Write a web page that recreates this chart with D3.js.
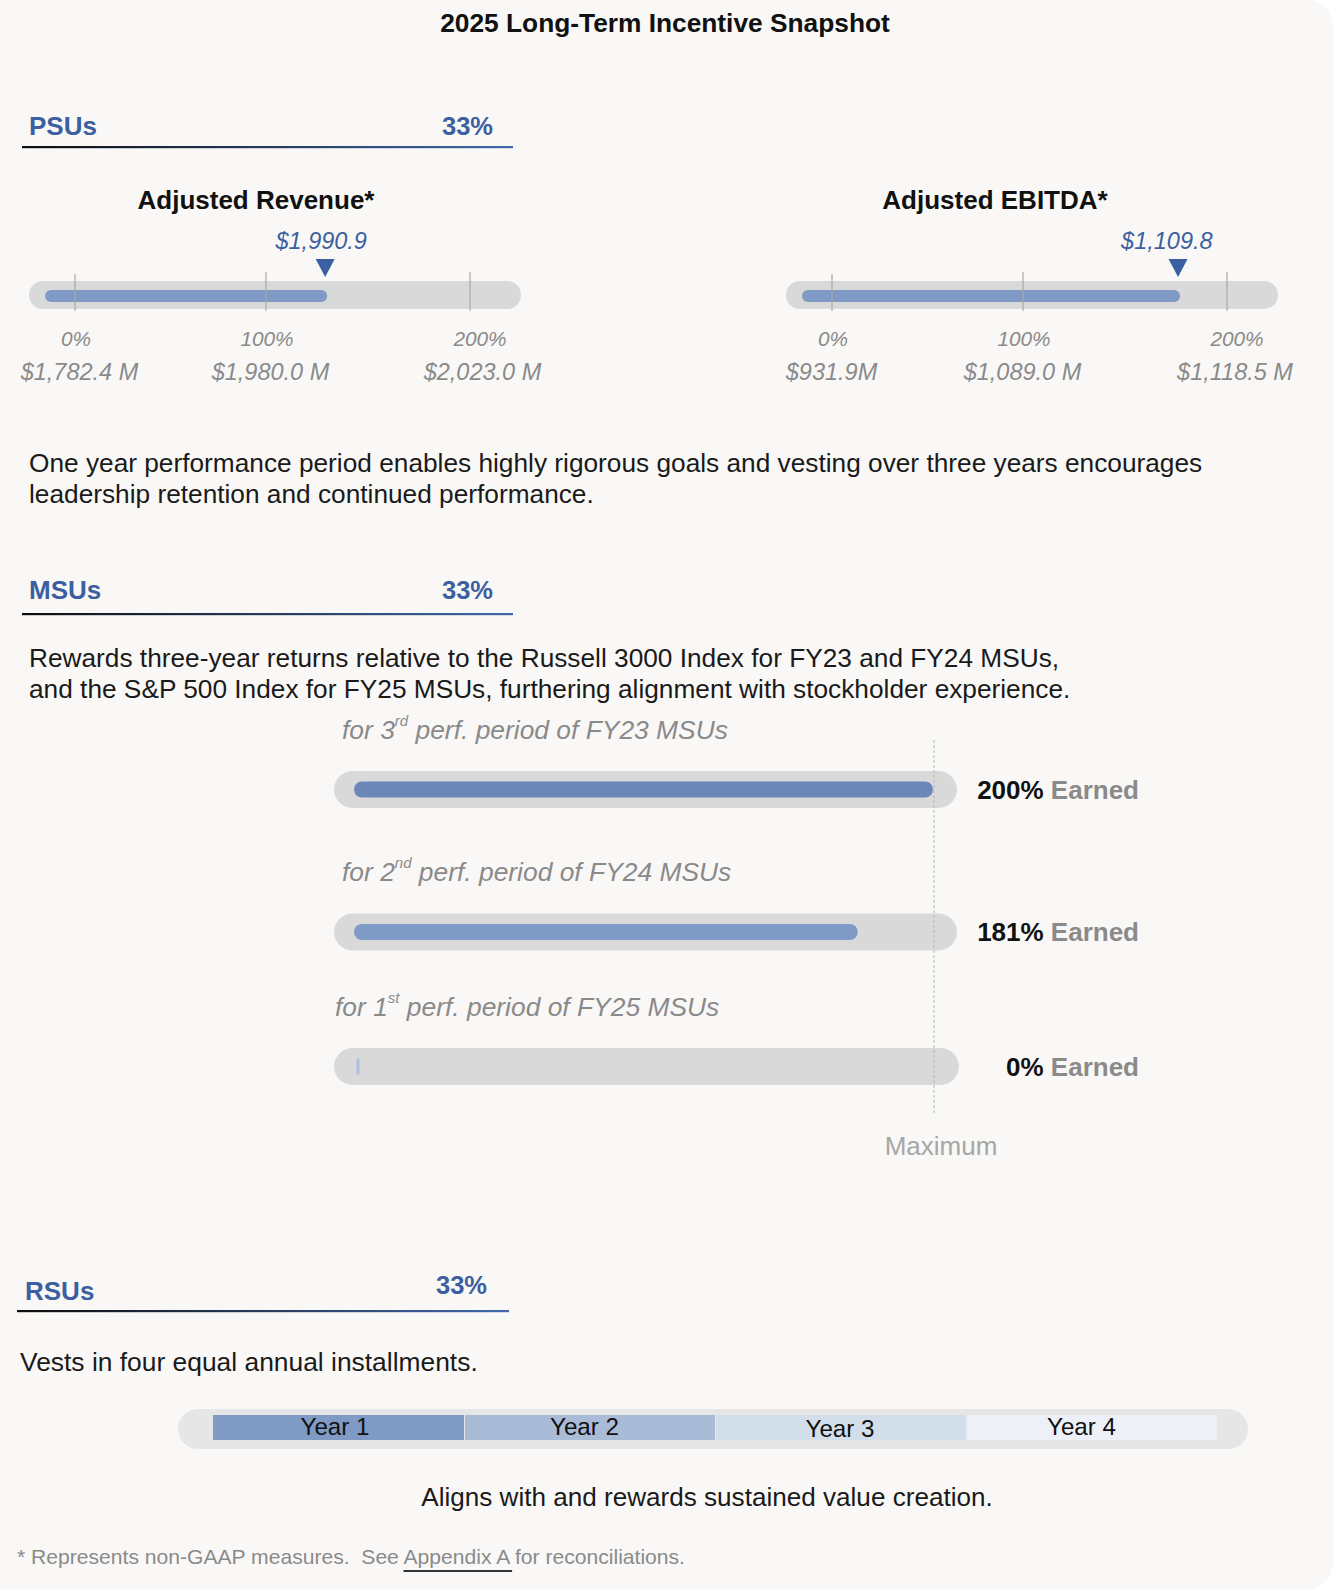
<!DOCTYPE html>
<html>
<head>
<meta charset="utf-8">
<script src="https://cdn.jsdelivr.net/npm/d3@7/dist/d3.min.js"></script>
<style>
  html, body { margin: 0; padding: 0; background: #ffffff; }
  svg { display: block; font-family: "Liberation Sans", Arial, Helvetica, sans-serif; }
</style>
</head>
<body>
<svg id="chart" width="1344" height="1596"></svg>
<script>
// ---------------- DATA ----------------
const chartTitle = "2025 Long-Term Incentive Snapshot";
const sectionNames = ["PSUs", "MSUs", "RSUs"];
const sectionWeights = ["33%", "33%", "33%"];

const psuMetrics = ["Adjusted Revenue*", "Adjusted EBITDA*"];
const psuTickPct = [0, 100, 200];
const psuTickPctLabels = ["0%", "100%", "200%"];
const revenueGoals = [1782.4, 1980.0, 2023.0];
const revenueGoalLabels = ["$1,782.4 M", "$1,980.0 M", "$2,023.0 M"];
const ebitdaGoals = [931.9, 1089.0, 1118.5];
const ebitdaGoalLabels = ["$931.9M", "$1,089.0 M", "$1,118.5 M"];
const psuActuals = [1990.9, 1109.8];
const psuActualLabels = ["$1,990.9", "$1,109.8"];
const psuBarPct = [129, 176];          // bar / marker position

const psuText = [
  "One year performance period enables highly rigorous goals and vesting over three years encourages",
  "leadership retention and continued performance."
];
const msuText = [
  "Rewards three-year returns relative to the Russell 3000 Index for FY23 and FY24 MSUs,",
  "and the S&P 500 Index for FY25 MSUs, furthering alignment with stockholder experience."
];
const msuOrdinal = ["3", "2", "1"];
const msuOrdinalSuffix = ["rd", "nd", "st"];
const msuFiscalYear = ["FY23", "FY24", "FY25"];
const msuEarned = [200, 181, 0];
const msuBarPct = [200, 174, 0];       // bar lengths
const msuMax = 200;

const rsuText = "Vests in four equal annual installments.";
const rsuYears = ["Year 1", "Year 2", "Year 3", "Year 4"];
const rsuShares = [25, 25, 25, 25];
const rsuNote = "Aligns with and rewards sustained value creation.";

// ---------------- STYLE ----------------
const C = {
  bg: "#f9f8f6",
  blue: "#3b5fa0",
  fill: "#7f9ac4",
  fillDark: "#6b86b8",
  track: "#d9d9d9",
  tick: "#a8a8a8",
  gray: "#8a8a8a",
  text: "#1a1a1a",
  rsu: ["#7f9ac4", "#aabbd8", "#d3deeb", "#edf1f7"]
};

const svg = d3.select("#chart");
const defs = svg.append("defs");
const grad = defs.append("linearGradient").attr("id", "hdrGrad").attr("x1", "0%").attr("x2", "100%");
grad.append("stop").attr("offset", "0%").attr("stop-color", "#0d0d0d");
grad.append("stop").attr("offset", "100%").attr("stop-color", "#4169aa");

// background panel
svg.append("rect").attr("x", -40).attr("y", -1).attr("width", 1373).attr("height", 1591)
  .attr("rx", 28).attr("fill", C.bg);

// title
svg.append("text").attr("x", 665).attr("y", 32).attr("text-anchor", "middle")
  .attr("font-size", 26.3).attr("font-weight", "bold").attr("fill", "#111").text(chartTitle);

// section headers
const headerLayout = [
  { nameX: 29, nameY: 135, pctX: 493, pctY: 135, lineY: 147, x1: 22, x2: 513 },
  { nameX: 29, nameY: 599, pctX: 493, pctY: 599, lineY: 614, x1: 22, x2: 513 },
  { nameX: 25, nameY: 1300, pctX: 487, pctY: 1294, lineY: 1311, x1: 17, x2: 509 }
];
sectionNames.forEach((name, i) => {
  const L = headerLayout[i];
  const g = svg.append("g");
  g.append("text").attr("x", L.nameX).attr("y", L.nameY).attr("font-size", 26)
    .attr("font-weight", "bold").attr("fill", C.blue).text(name);
  g.append("text").attr("x", L.pctX).attr("y", L.pctY).attr("text-anchor", "end").attr("font-size", 25.5)
    .attr("font-weight", "bold").attr("fill", C.blue).text(sectionWeights[i]);
  g.append("rect").attr("x", L.x1).attr("y", L.lineY - 1).attr("width", L.x2 - L.x1).attr("height", 2.2)
    .attr("fill", "url(#hdrGrad)");
});

// ---------------- PSU gauges ----------------
const psuGoals = [revenueGoals, ebitdaGoals];
const psuGoalLabels = [revenueGoalLabels, ebitdaGoalLabels];
const psuOrigins = [29, 786];
const psuTitleX = [227, 209];
const psuValueNudge = [[4.5, 4.5, 12.5], [-0.5, -0.5, 8]];
const psuActualNudge = [3.5, 0];
const pctScale = d3.scaleLinear().domain(psuTickPct).range([46, 237, 441]);

psuMetrics.forEach((metric, i) => {
  const g = svg.append("g").attr("transform", `translate(${psuOrigins[i]},0)`);
  const dollar = d3.scaleLinear().domain(psuGoals[i]).range(pctScale.range());
  const trackY = 281, trackH = 28;

  g.append("text").attr("x", psuTitleX[i]).attr("y", 209).attr("text-anchor", "middle")
    .attr("font-size", 26).attr("font-weight", "bold").attr("fill", "#111").text(metric);

  g.append("rect").attr("x", 0).attr("y", trackY).attr("width", 492).attr("height", trackH)
    .attr("rx", trackH / 2).attr("fill", C.track);

  const xEnd = pctScale(psuBarPct[i]);
  g.append("rect").attr("x", 16).attr("y", 290).attr("width", xEnd + 2 - 16).attr("height", 12)
    .attr("rx", 6).attr("fill", C.fill);

  // ticks
  g.selectAll("line.tick").data(psuTickPct).enter().append("line")
    .attr("x1", d => pctScale(d)).attr("x2", d => pctScale(d))
    .attr("y1", (d, j) => j === 0 ? 274 : 272).attr("y2", 311)
    .attr("stroke", C.tick).attr("stroke-width", 1.2);

  // tick labels
  g.selectAll("text.pct").data(psuTickPct).enter().append("text")
    .attr("x", (d, j) => pctScale(d) + (j === 2 ? 10 : 1)).attr("y", 346)
    .attr("text-anchor", "middle").attr("font-size", 20.8).attr("font-style", "italic")
    .attr("fill", C.gray).text((d, j) => psuTickPctLabels[j]);
  g.selectAll("text.val").data(psuGoals[i]).enter().append("text")
    .attr("x", (d, j) => dollar(d) + psuValueNudge[i][j]).attr("y", 380)
    .attr("text-anchor", "middle").attr("font-size", 23.5).attr("font-style", "italic")
    .attr("fill", C.gray).text((d, j) => psuGoalLabels[i][j]);

  // marker
  const mx = pctScale(psuBarPct[i]);
  g.append("path").attr("d", `M${mx - 9.5},259 L${mx + 9.5},259 L${mx},277 Z`).attr("fill", C.blue);
  g.append("text").attr("x", dollar(psuActuals[i]) + psuActualNudge[i]).attr("y", 249).attr("text-anchor", "middle")
    .attr("font-size", 23.5).attr("font-style", "italic").attr("fill", C.blue).text(psuActualLabels[i]);
});

// body texts
function paragraph(lines, x, y0, lh, fs) {
  const t = svg.append("text").attr("font-size", fs || 26.25).attr("fill", C.text);
  lines.forEach((l, i) => t.append("tspan").attr("x", x).attr("y", y0 + i * lh).text(l));
}
paragraph(psuText, 29, 472, 31);
paragraph(msuText, 29, 667, 31);

// ---------------- MSU bars ----------------
const msuX = d3.scaleLinear().domain([0, msuMax]).range([354, 933]);
const msuRowY = [789.5, 932, 1066.5];
const msuLabelX = [342, 342, 335];

msuEarned.forEach((v, i) => {
  const cy = msuRowY[i];
  const g = svg.append("g");
  const lab = g.append("text").attr("x", msuLabelX[i]).attr("y", cy - 51)
    .attr("font-size", 26.4).attr("font-style", "italic").attr("fill", C.gray);
  lab.append("tspan").text("for " + msuOrdinal[i]);
  lab.append("tspan").attr("font-size", 15).attr("dy", -13).text(msuOrdinalSuffix[i]);
  lab.append("tspan").attr("dy", 13).text(" perf. period of " + msuFiscalYear[i] + " MSUs");

  g.append("rect").attr("x", msuX(0) - 20).attr("y", cy - 18.5)
    .attr("width", msuX(msuMax) + 24 - (msuX(0) - 20) + (i === 2 ? 2 : 0)).attr("height", 37)
    .attr("rx", 18.5).attr("fill", C.track);

  const w = msuX(msuBarPct[i]) - msuX(0);
  if (w > 4) {
    g.append("rect").attr("x", msuX(0)).attr("y", cy - 8).attr("width", w).attr("height", 16)
      .attr("rx", 8).attr("fill", i === 0 ? C.fillDark : C.fill);
  } else {
    g.append("rect").attr("x", msuX(0) + 2.5).attr("y", cy - 8).attr("width", 3).attr("height", 16)
      .attr("fill", "#a9c0e0");
  }

  const t = g.append("text").attr("x", 1139).attr("y", cy + 9).attr("text-anchor", "end")
    .attr("font-size", 26).attr("font-weight", "bold");
  t.append("tspan").attr("fill", "#111").text(v + "%");
  t.append("tspan").attr("fill", C.gray).text(" Earned");
});

svg.append("line").attr("x1", msuX(msuMax) + 1).attr("x2", msuX(msuMax) + 1)
  .attr("y1", 740).attr("y2", 1113).attr("stroke", "#b5b5b5").attr("stroke-width", 1)
  .attr("stroke-dasharray", "3,2");
svg.append("text").attr("x", 941).attr("y", 1155).attr("text-anchor", "middle")
  .attr("font-size", 26).attr("fill", "#a6a6a6").text("Maximum");

// ---------------- RSU ----------------
paragraph([rsuText], 20, 1371, 31, 26.4);

svg.append("rect").attr("x", 178).attr("y", 1409).attr("width", 1070).attr("height", 40)
  .attr("rx", 20).attr("fill", "#e6e6e6");
const cum = d3.cumsum(rsuShares);
const rsuX = d3.scaleLinear().domain([0, d3.sum(rsuShares)]).range([213, 1217]);
const rsuLabelNudge = [-3.5, -5, -0.5, -10];
const segs = rsuYears.map((y, i) => ({ y, x0: i === 0 ? 0 : cum[i - 1], x1: cum[i], i }));
svg.selectAll("rect.seg").data(segs).enter().append("rect")
  .attr("x", d => rsuX(d.x0) + (d.i === 0 ? 0 : 1)).attr("y", 1415)
  .attr("width", d => rsuX(d.x1) - rsuX(d.x0) - (d.i === 0 ? 0 : 1)).attr("height", 25)
  .attr("fill", d => C.rsu[d.i]);
svg.selectAll("text.seg").data(segs).enter().append("text")
  .attr("x", d => (rsuX(d.x0) + rsuX(d.x1)) / 2 + rsuLabelNudge[d.i]).attr("y", d => d.i === 2 ? 1437 : 1435)
  .attr("text-anchor", "middle").attr("font-size", 24.2).attr("fill", "#111").text(d => d.y);

svg.append("text").attr("x", 707).attr("y", 1506).attr("text-anchor", "middle")
  .attr("font-size", 26.1).attr("fill", C.text).text(rsuNote);

// footnote
const fn = svg.append("text").attr("x", 17).attr("y", 1564).attr("font-size", 21.1).attr("fill", C.gray)
  .attr("xml:space", "preserve");
const part1 = "* Represents non-GAAP measures.  See ";
const part2 = "Appendix A";
fn.append("tspan").text(part1);
fn.append("tspan").text(part2);
fn.append("tspan").text(" for reconciliations.");
const node = fn.node();
const s = node.getStartPositionOfChar(part1.length);
const e = node.getEndPositionOfChar(part1.length + part2.length - 1);
svg.append("rect").attr("x", s.x).attr("y", 1570).attr("width", e.x - s.x + 3).attr("height", 2)
  .attr("fill", "#333");
</script>
</body>
</html>
